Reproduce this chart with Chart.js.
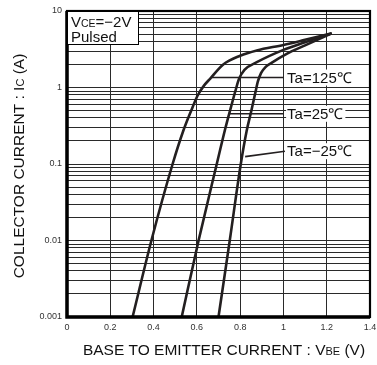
<!DOCTYPE html>
<html><head><meta charset="utf-8">
<script src="https://cdn.jsdelivr.net/npm/chart.js@4"></script>
<style>html,body{margin:0;padding:0;background:#fff;overflow:hidden}#wrap{width:377px;height:365px;position:relative}</style>
</head><body><div id="wrap"><canvas id="c" width="377" height="365"></canvas></div>
<script>
// ---- data ----
const xTicks = [0, 0.2, 0.4, 0.6, 0.8, 1, 1.2, 1.4];
const yDecades = [0.001, 0.01, 0.1, 1, 10];
const yMinorSteps = [1, 2, 3, 4, 5, 6, 7, 8, 9];

const vbe125 = [0.303, 0.39, 0.488, 0.537, 0.574, 0.603, 0.632, 0.661, 0.722, 0.80, 0.877, 1.0, 1.1, 1.223];
const ic125  = [0.001, 0.01, 0.1, 0.27, 0.5, 0.78, 1.05, 1.3, 2.0, 2.6, 3.05, 3.6, 4.2, 5.1];

const vbe25 = [0.53, 0.608, 0.692, 0.73, 0.755, 0.778, 0.795, 0.82, 0.877, 1.0, 1.1, 1.223];
const ic25  = [0.001, 0.01, 0.1, 0.28, 0.52, 0.9, 1.3, 1.7, 2.14, 3.1, 3.9, 5.1];

const vbeM25 = [0.70, 0.752, 0.803, 0.830, 0.852, 0.870, 0.882, 0.897, 0.917, 0.945, 1.015, 1.1, 1.223];
const icM25  = [0.001, 0.01, 0.1, 0.27, 0.5, 0.85, 1.2, 1.55, 1.85, 2.1, 2.75, 3.55, 5.1];

const curveLabels = ['Ta=125\u2103', 'Ta=25\u2103', 'Ta=\u221225\u2103'];
const leaderStartV = [0.670, 0.753, 0.823];
const leaderStartI = [1.35, 0.453, 0.125];
const leaderEndV   = [1.0, 1.0, 1.007];
const leaderEndI   = [1.35, 0.453, 0.147];
const labelV       = [1.017, 1.017, 1.017];

const pts = (xs, ys) => xs.map((x, i) => ({x: x, y: ys[i]}));
const FONT = '"Liberation Sans", Arial, Helvetica, sans-serif';
const INK = '#231f20';

const curveStyle = {borderColor: INK, borderWidth: 2.6, pointRadius: 0, showLine: true, fill: false, cubicInterpolationMode: 'monotone'};
const datasets = [];
for (let i = 0; i < 3; i++) {
  datasets.push({data: [{x: leaderStartV[i], y: leaderStartI[i]}, {x: leaderEndV[i], y: leaderEndI[i]}],
    borderColor: INK, borderWidth: 1.6, pointRadius: 0, showLine: true, fill: false, tension: 0});
}
datasets.push(Object.assign({data: pts(vbe125, ic125)}, curveStyle));
datasets.push(Object.assign({data: pts(vbe25, ic25)}, curveStyle));
datasets.push(Object.assign({data: pts(vbeM25, icM25)}, curveStyle));

function drawSubText(ctx, parts, x, y, align) {
  let total = 0;
  parts.forEach(p => { ctx.font = p[1] + 'px ' + FONT; total += ctx.measureText(p[0]).width; });
  let cx = align === 'center' ? x - total / 2 : x;
  ctx.textAlign = 'left';
  ctx.textBaseline = 'alphabetic';
  parts.forEach(p => {
    ctx.font = p[1] + 'px ' + FONT;
    ctx.fillText(p[0], cx, y + (p[2] || 0));
    cx += ctx.measureText(p[0]).width;
  });
  return total;
}

const decor = {
  id: 'decor',
  afterDatasetsDraw(chart) {
    const ctx = chart.ctx, a = chart.chartArea;
    const xs = chart.scales.x, ys = chart.scales.y;
    ctx.save();
    // frame
    ctx.strokeStyle = '#000';
    ctx.lineWidth = 2.2;
    ctx.strokeRect(a.left, a.top, a.right - a.left, a.bottom - a.top);
    ctx.lineWidth = 3.5;
    ctx.beginPath();
    ctx.moveTo(a.left, a.top); ctx.lineTo(a.left, a.bottom); ctx.lineTo(a.right, a.bottom);
    ctx.stroke();
    // condition box
    ctx.fillStyle = '#fff';
    ctx.fillRect(a.left + 1, a.top + 1, 70, 33);
    ctx.lineWidth = 1;
    ctx.strokeStyle = '#000';
    ctx.strokeRect(a.left + 0.5, a.top + 0.5, 71, 33);
    ctx.fillStyle = '#111';
    drawSubText(ctx, [['V', 15], ['CE', 10.5], ['=\u22122V', 15]], a.left + 4, a.top + 16, 'left');
    drawSubText(ctx, [['Pulsed', 15]], a.left + 4, a.top + 31, 'left');
    // curve labels with white backing
    for (let i = 0; i < 3; i++) {
      const px = xs.getPixelForValue(labelV[i]);
      const py = ys.getPixelForValue(leaderEndI[i]);
      ctx.font = '15px ' + FONT;
      const w = ctx.measureText(curveLabels[i]).width;
      ctx.fillStyle = '#fff';
      ctx.fillRect(px - 1, py - 8, w + 3, 16);
      ctx.textBaseline = 'middle';
      ctx.textAlign = 'left';
      ctx.fillStyle = '#111';
      ctx.fillText(curveLabels[i], px, py + 1);
    }
    // axis titles
    ctx.fillStyle = '#111';
    drawSubText(ctx, [['BASE TO EMITTER CURRENT : V', 15.5], ['BE', 11], [' (V)', 15.5]], 224, 355, 'center');
    ctx.translate(24, 166);
    ctx.rotate(-Math.PI / 2);
    drawSubText(ctx, [['COLLECTOR CURRENT : I', 15.5], ['C', 11], [' (A)', 15.5]], 0, 0, 'center');
    ctx.restore();
  }
};

new Chart(document.getElementById('c'), {
  type: 'scatter',
  data: {datasets: datasets},
  plugins: [decor],
  options: {
    responsive: false,
    animation: false,
    devicePixelRatio: 1,
    layout: {padding: {left: 0, top: 11, right: 7, bottom: 0}},
    plugins: {legend: {display: false}, tooltip: {enabled: false}, title: {display: false}},
    scales: {
      x: {
        type: 'linear', min: 0, max: 1.4,
        afterBuildTicks: s => { s.ticks = xTicks.map(v => ({value: v})); },
        afterFit: s => { s.height = 48; s.paddingLeft = 0; s.paddingRight = 0; },
        grid: {color: '#2a2a2a', lineWidth: 1, drawTicks: false},
        border: {display: false},
        ticks: {padding: 5, color: '#333', font: {size: 9, family: FONT}, maxRotation: 0, autoSkip: false,
          callback: v => String(v)}
      },
      y: {
        type: 'logarithmic', min: 0.001, max: 10,
        afterBuildTicks: s => {
          const t = [];
          yDecades.forEach(d => {
            if (d === 10) { t.push({value: 10, major: true}); return; }
            yMinorSteps.forEach(m => t.push({value: +(d * m).toPrecision(3), major: m === 1}));
          });
          s.ticks = t;
        },
        afterFit: s => { s.width = 67; s.paddingTop = 0; s.paddingBottom = 0; },
        grid: {color: '#2a2a2a', lineWidth: 1, drawTicks: false},
        border: {display: false},
        ticks: {padding: 5, color: '#333', font: {size: 9, family: FONT}, autoSkip: false,
          callback: v => (yDecades.indexOf(v) >= 0 ? String(v) : '')}
      }
    }
  }
});
</script>
</body></html>
